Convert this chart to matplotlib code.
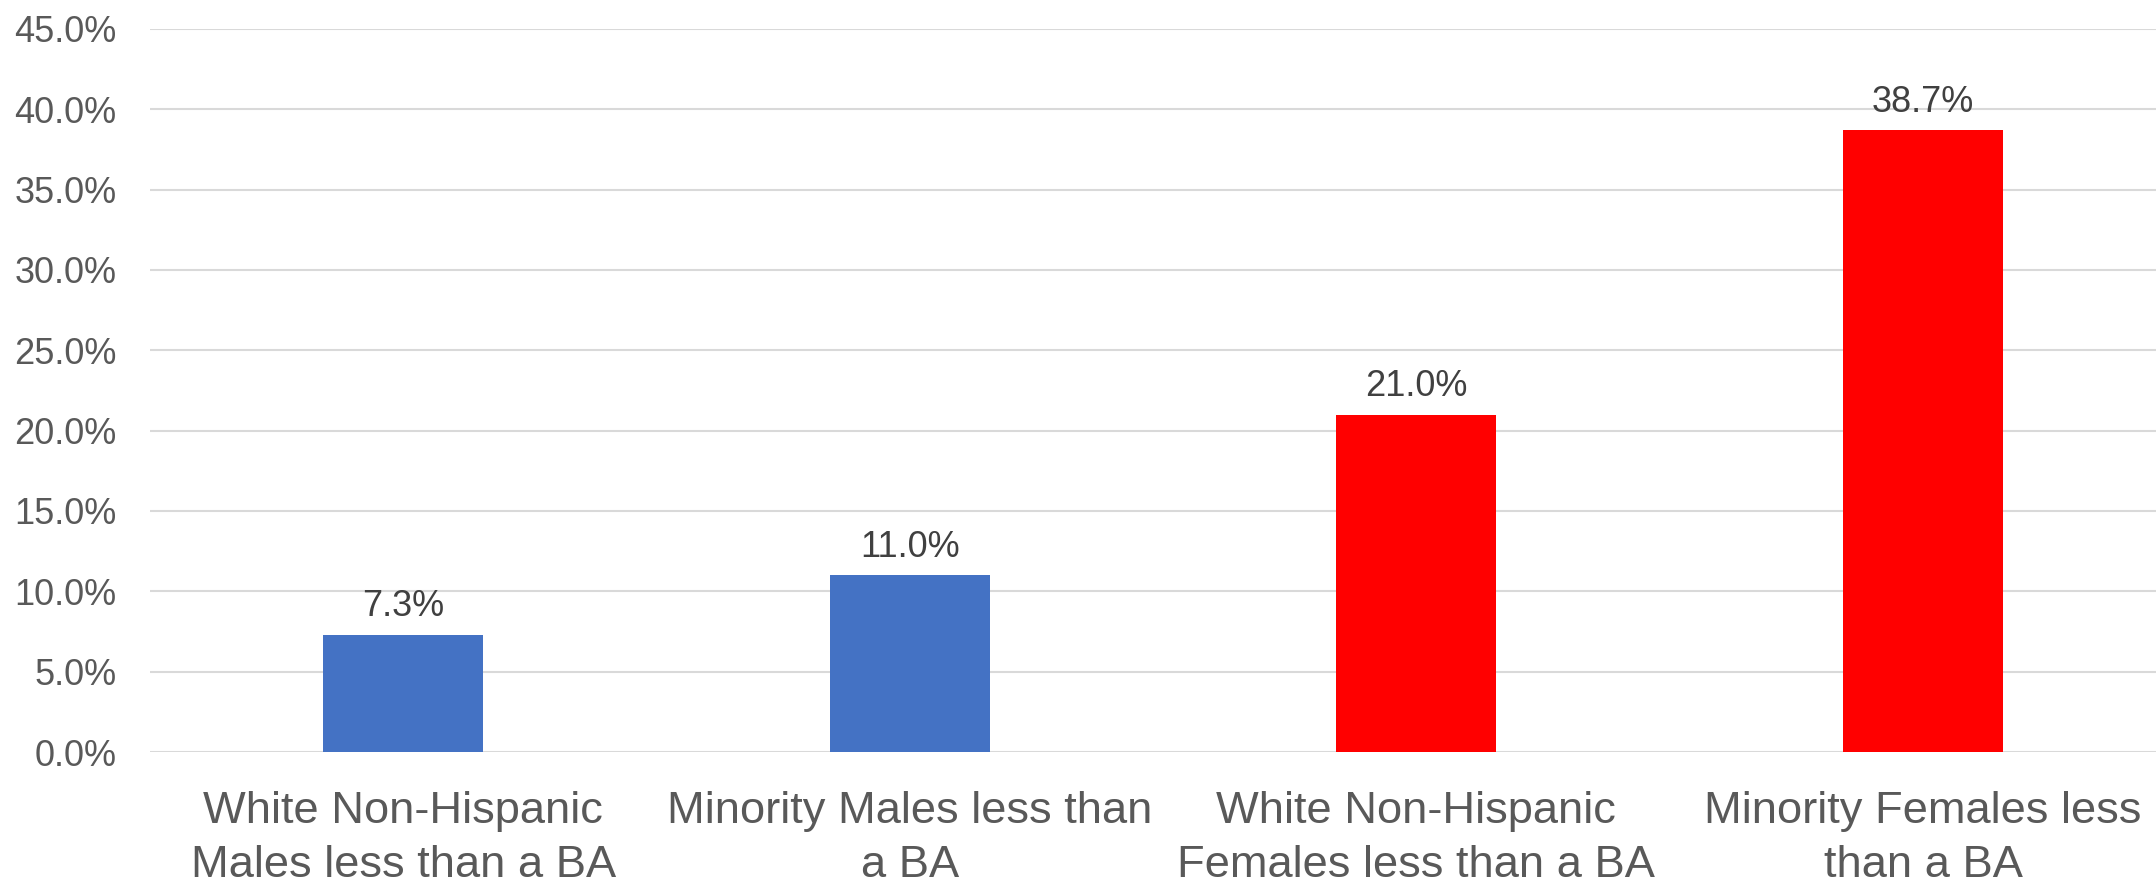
import numpy as np
import matplotlib
matplotlib.use('Agg')
import matplotlib.pyplot as plt
from matplotlib.ticker import FuncFormatter

plt.rcParams['font.family'] = ['Liberation Sans', 'DejaVu Sans']

# data
categories = ['White Non-Hispanic\nMales less than a BA',
              'Minority Males less than\na BA',
              'White Non-Hispanic\nFemales less than a BA',
              'Minority Females less\nthan a BA']
values = [0.073, 0.110, 0.210, 0.387]
colors = ['#4472C4', '#4472C4', '#FF0000', '#FF0000']
yticks = np.arange(0, 0.451, 0.05)

fig = plt.figure(figsize=(21.56, 8.84), dpi=100)
ax = fig.add_axes([150/2156, 132/884, 1 - 150/2156, 723/884])

x = np.arange(len(categories))
bars = ax.bar(x, values, width=0.316, color=colors, zorder=3)

# value labels above bars
for b, v in zip(bars, values):
    ax.annotate('%.1f%%' % (v * 100), (b.get_x() + b.get_width()/2, v),
                xytext=(0, 7.5), textcoords='offset points',
                ha='center', va='bottom', fontsize=26, color='#404040')

ax.set_ylim(0, 0.45)
ax.set_xlim(-0.5, 3.46)
ax.set_yticks(yticks)
ax.yaxis.set_major_formatter(FuncFormatter(lambda v, p: '%.1f%%' % (v * 100)))
ax.set_xticks(x)
ax.set_xticklabels(categories, fontsize=32.6, color='#595959', linespacing=1.4)
ax.tick_params(axis='y', labelsize=26, labelcolor='#595959', length=0, pad=24)
ax.tick_params(axis='x', length=0, pad=28)

ax.grid(axis='y', color='#d9d9d9', linewidth=1.5, zorder=0)
for s in ax.spines.values():
    s.set_visible(False)

fig.savefig('out.png', dpi=100)
